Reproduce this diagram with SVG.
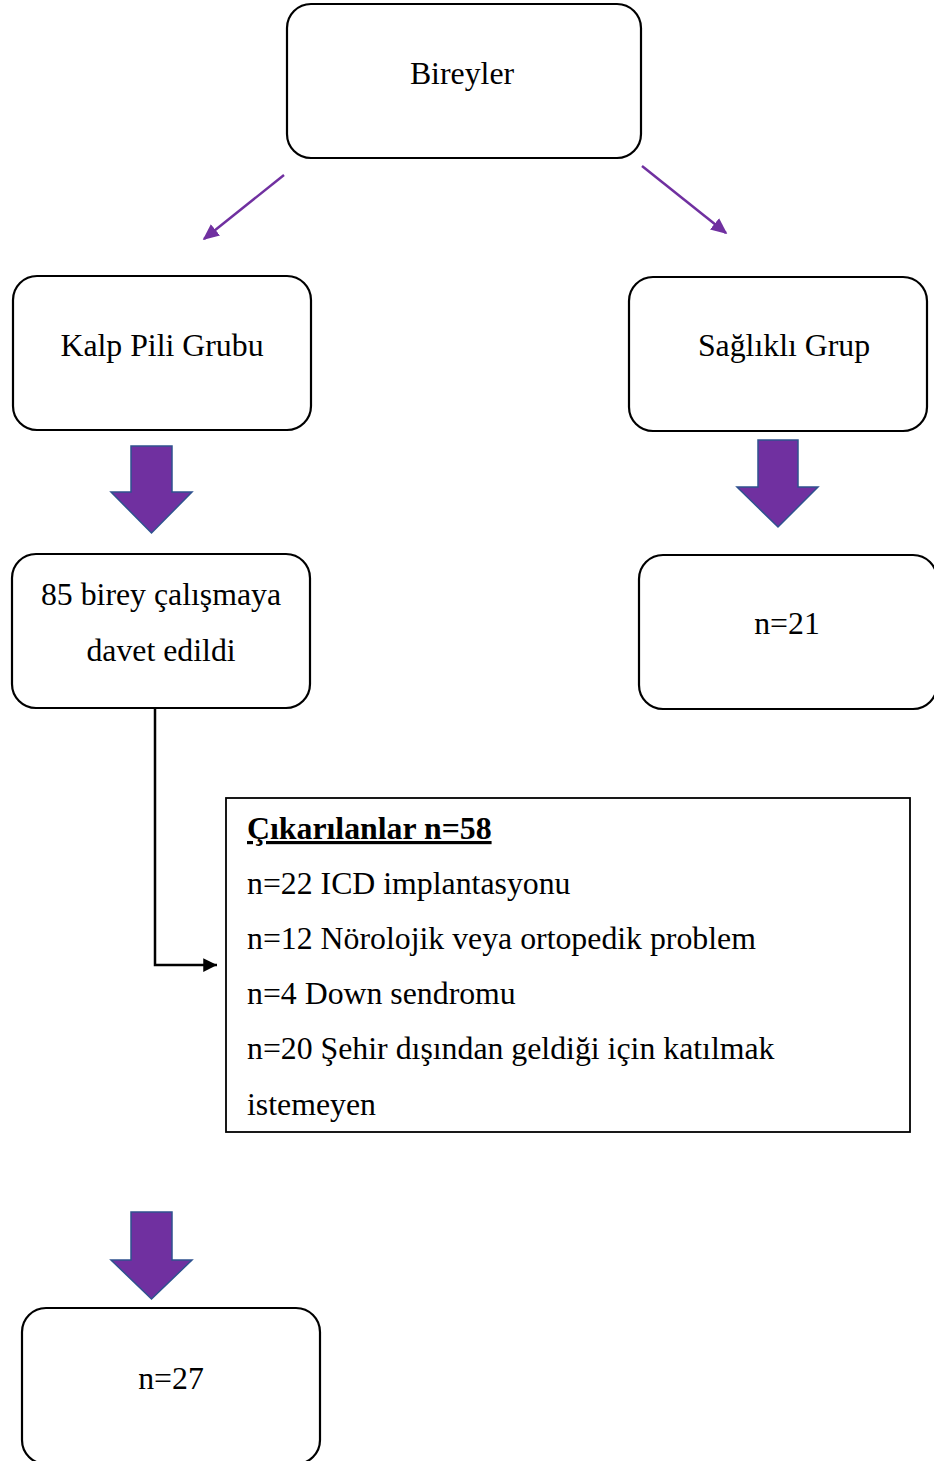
<svg xmlns="http://www.w3.org/2000/svg" width="934" height="1461" viewBox="0 0 934 1461">
<defs>
<style>
.box{fill:#fff;stroke:#000;stroke-width:2.2}
.t{font-family:"Liberation Serif","Times New Roman",serif;font-size:31.8px;fill:#000}
.c{text-anchor:middle}
.thin{stroke:#7030A0;stroke-width:2.5;fill:none}
.big{fill:#7030A0;stroke:#2F528F;stroke-width:1.5}
.conn{stroke:#000;stroke-width:2.5;fill:none}
</style>
<marker id="pa" viewBox="0 0 10 10" refX="9" refY="5" markerWidth="6.5" markerHeight="6.5" orient="auto" markerUnits="strokeWidth">
<path d="M0,0.5 L10,5 L0,9.5 z" fill="#7030A0"/>
</marker>
<marker id="ba" viewBox="0 0 10 10" refX="10" refY="5" markerWidth="5.5" markerHeight="5.5" orient="auto" markerUnits="strokeWidth">
<path d="M0,0 L10,5 L0,10 z" fill="#000"/>
</marker>
</defs>
<rect width="934" height="1461" fill="#fff"/>

<g id="connectors">
<line class="thin" x1="284" y1="175" x2="204" y2="239" marker-end="url(#pa)"/>
<line class="thin" x1="642" y1="166" x2="726" y2="233" marker-end="url(#pa)"/>
<polyline class="conn" points="155,708 155,965 217,965" marker-end="url(#ba)"/>
<path class="big" d="M131,446 H172 V492 H192 L151.5,533 L111,492 H131 Z"/>
<path class="big" d="M758,440 H798 V487 H818 L778,527 L737,487 H758 Z"/>
<path class="big" d="M131,1212 H172 V1260 H192 L151.5,1299 L111,1260 H131 Z"/>
</g>

<g id="bireyler">
<rect class="box" x="287" y="4" width="354" height="154" rx="24"/>
<text class="t c" x="462" y="84">Bireyler</text>
</g>

<g id="kalp-pili">
<rect class="box" x="13" y="276" width="298" height="154" rx="24"/>
<text class="t c" x="162" y="356">Kalp Pili Grubu</text>
</g>

<g id="saglikli">
<rect class="box" x="629" y="277" width="298" height="154" rx="24"/>
<text class="t c" x="784" y="356">Sağlıklı Grup</text>
</g>

<g id="davet">
<rect class="box" x="12" y="554" width="298" height="154" rx="24"/>
<text class="t c" x="161" y="605">85 birey çalışmaya</text>
<text class="t c" x="161" y="661">davet edildi</text>
</g>

<g id="n21">
<rect class="box" x="639" y="555" width="298" height="154" rx="24"/>
<text class="t c" x="787" y="634">n=21</text>
</g>

<g id="cikarilanlar">
<rect x="226" y="798" width="684" height="334" fill="#fff" stroke="#000" stroke-width="1.8"/>
<text class="t" x="247" y="839" font-weight="bold" text-decoration="underline">Çıkarılanlar n=58</text>
<text class="t" x="247" y="894">n=22 ICD implantasyonu</text>
<text class="t" x="247" y="949">n=12 Nörolojik veya ortopedik problem</text>
<text class="t" x="247" y="1004">n=4 Down sendromu</text>
<text class="t" x="247" y="1059">n=20 Şehir dışından geldiği için katılmak</text>
<text class="t" x="247" y="1115">istemeyen</text>
</g>

<g id="n27">
<rect class="box" x="22" y="1308" width="298" height="156" rx="24"/>
<text class="t c" x="171" y="1389">n=27</text>
</g>
</svg>
